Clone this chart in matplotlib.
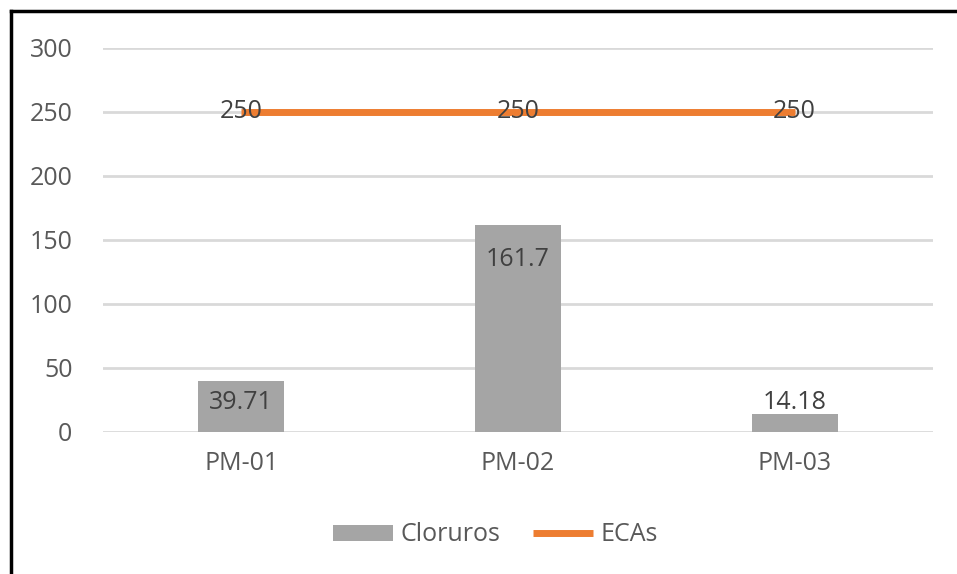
import matplotlib
matplotlib.use('Agg')
import matplotlib.pyplot as plt
import numpy as np

plt.rcParams['font.family'] = ['Open Sans', 'DejaVu Sans']

categories = ['PM-01', 'PM-02', 'PM-03']
cloruros = [39.71, 161.7, 14.18]
ecas = [250, 250, 250]
yticks = [0, 50, 100, 150, 200, 250, 300]

fig = plt.figure(figsize=(9.57, 5.74), dpi=100)
ax = fig.add_axes([0.1076, 0.2474, 0.8673, 0.669])

x = np.arange(len(categories))
bars = ax.bar(x, cloruros, width=0.31, color='#a5a5a5', label='Cloruros', zorder=2)
line, = ax.plot(x, ecas, color='#ed7d31', lw=5, solid_capstyle='butt', label='ECAs', zorder=3)

# data labels
for xi, v in zip(x, cloruros):
    ax.text(xi, max(v - 27.3, 23.4), f'{v:g}', ha='center', va='center',
            fontsize=18, color='#404040', zorder=4)
for xi, v in zip(x, ecas):
    ax.text(xi, v, f'{v:g}', ha='center', va='center',
            fontsize=18, color='#404040', zorder=4)

ax.set_xlim(-0.5, 2.5)
ax.set_ylim(0, 300)
ax.set_yticks(yticks)
ax.set_xticks(x)
ax.set_xticklabels(categories)
ax.tick_params(length=0, labelsize=18, labelcolor='#595959')
ax.tick_params(axis='y', pad=22)
ax.tick_params(axis='x', pad=14)
ax.grid(axis='y', color='#d9d9d9', lw=2, zorder=0)
ax.set_axisbelow(True)
for s in ax.spines.values():
    s.set_visible(False)

leg = fig.legend([bars, line], ['Cloruros', 'ECAs'], loc='center',
                 bbox_to_anchor=(0.518, 0.068), ncol=2, frameon=False,
                 fontsize=18, labelcolor='#595959', handlelength=2.4,
                 handleheight=0.6, handletextpad=0.3, columnspacing=1.3)

# border lines on left and top
fig.add_artist(plt.Line2D([0.0115, 0.0115], [0, 0.981], color='black', lw=2.5,
                          transform=fig.transFigure))
fig.add_artist(plt.Line2D([0.0115, 1], [0.981, 0.981], color='black', lw=2.5,
                          transform=fig.transFigure))

fig.savefig('out.png', dpi=100)
